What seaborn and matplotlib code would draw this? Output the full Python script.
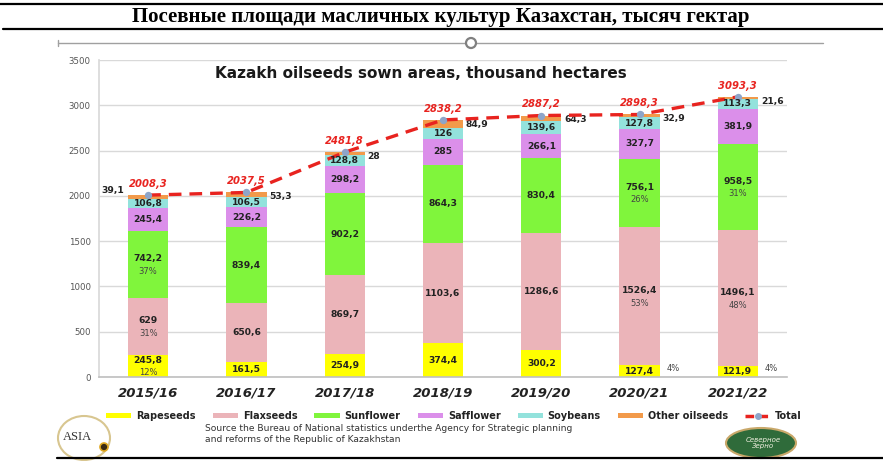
import matplotlib
matplotlib.use("Agg")
import matplotlib.pyplot as plt
import seaborn as sns
import numpy as np
from matplotlib.patches import Ellipse, Patch
from matplotlib.lines import Line2D

# ---------------- data ----------------
seasons = ["2015/16", "2016/17", "2017/18", "2018/19", "2019/20", "2020/21", "2021/22"]
rapeseeds = [245.8, 161.5, 254.9, 374.4, 300.2, 127.4, 121.9]
flaxseeds = [629, 650.6, 869.7, 1103.6, 1286.6, 1526.4, 1496.1]
sunflower = [742.2, 839.4, 902.2, 864.3, 830.4, 756.1, 958.5]
safflower = [245.4, 226.2, 298.2, 285, 266.1, 327.7, 381.9]
soybeans = [106.8, 106.5, 128.8, 126, 139.6, 127.8, 113.3]
other_oilseeds = [39.1, 53.3, 28, 84.9, 64.3, 32.9, 21.6]
totals = [2008.3, 2037.5, 2481.8, 2838.2, 2887.2, 2898.3, 3093.3]

pct_rapeseeds = ["12%", "", "", "", "", "4%", "4%"]
pct_flaxseeds = ["31%", "", "", "", "", "53%", "48%"]
pct_sunflower = ["37%", "", "", "", "", "26%", "31%"]

series_names = ["Rapeseeds", "Flaxseeds", "Sunflower", "Safflower", "Soybeans", "Other oilseeds"]
series_values = [rapeseeds, flaxseeds, sunflower, safflower, soybeans, other_oilseeds]
colors = ["#FFFF00", "#EBB4B9", "#80F53C", "#DB8FEA", "#93E2DC", "#F29A4A"]
total_color = "#E8231F"
marker_color = "#8EA5C9"

page_title = "Посевные площади масличных культур Казахстан, тысяч гектар"
chart_title = "Kazakh oilseeds sown areas, thousand hectares"
source_text = ("Source the Bureau of National statistics underthe Agency for Strategic planning\n"
               "and reforms of the Republic of Kazakhstan")


def fmt(v):
    return f"{v:g}".replace(".", ",")


# ---------------- figure ----------------
W, H = 883, 461
sns.set_theme(style="white")
plt.rcParams["font.family"] = ["DejaVu Sans"]
fig = plt.figure(figsize=(W / 100, H / 100), dpi=100)


def fx(x):
    return x / W


def fy(y):
    return 1 - y / H


# page decorations
fig.add_artist(Line2D([0, 1], [fy(4), fy(4)], color="black", lw=1.6, transform=fig.transFigure))
fig.add_artist(Line2D([fx(3), 1], [fy(29), fy(29)], color="black", lw=1.6, transform=fig.transFigure))
fig.text(fx(441), fy(17), page_title, ha="center", va="center", fontsize=15,
         fontweight="bold", family=["Liberation Serif", "DejaVu Serif"], color="black")
fig.add_artist(Line2D([fx(58), fx(823)], [fy(43), fy(43)], color="#A0A0A0", lw=1.0,
                      transform=fig.transFigure))
fig.add_artist(Line2D([fx(58), fx(58)], [fy(40), fy(46)], color="#A0A0A0", lw=1.0,
                      transform=fig.transFigure))
fig.add_artist(Ellipse((fx(471), fy(43)), 10 / W, 10 / H, facecolor="white",
                       edgecolor="#808080", lw=1.6, transform=fig.transFigure, zorder=5))
fig.add_artist(Line2D([fx(57), 1], [fy(458), fy(458)], color="black", lw=1.6,
                      transform=fig.transFigure))

# axes
ax_left, ax_right, ax_top, ax_bottom = 99, 787, 60, 377
ax = fig.add_axes([fx(ax_left), fy(ax_bottom), (ax_right - ax_left) / W, (ax_bottom - ax_top) / H])

cum = np.cumsum(np.array(series_values, dtype=float), axis=0)
bar_w = 0.41
for k in range(len(series_names) - 1, -1, -1):
    sns.barplot(x=seasons, y=cum[k], color=colors[k], saturation=1, width=bar_w,
                ax=ax, zorder=2, linewidth=0)

xpos = np.arange(len(seasons))
sns.lineplot(x=xpos, y=totals, ax=ax, color=total_color, lw=2.4,
             linestyle=(0, (3.8, 2.4)), zorder=4)
sns.scatterplot(x=xpos, y=totals, ax=ax, color=marker_color, s=28, linewidth=0, zorder=5)

ax.set_xlim(-0.5, len(seasons) - 0.5)
ax.set_ylim(0, 3500)
ax.set_yticks(np.arange(0, 3501, 500))
ax.set_xlabel("")
ax.set_ylabel("")
ax.grid(axis="y", color="#D9D9D9", lw=1.0, zorder=0)
ax.set_axisbelow(True)
for s in ["right", "top"]:
    ax.spines[s].set_visible(False)
ax.spines["left"].set_color("#D9D9D9")
ax.spines["bottom"].set_color("#BFBFBF")
ax.spines["bottom"].set_linewidth(1.2)
ax.tick_params(axis="y", length=0, pad=6, labelsize=6.2, labelcolor="#555555")
ax.tick_params(axis="x", length=0, pad=7, labelsize=9.5)
for lab in ax.get_xticklabels():
    lab.set_fontweight("bold")
    lab.set_fontstyle("italic")
    lab.set_color("#222222")

# data labels
lab_kw = dict(ha="center", va="center", fontsize=6.6, fontweight="bold", color="#222222", zorder=6)
pct_kw = dict(ha="center", va="center", fontsize=6.0, color="#444444", zorder=6)
pct_lists = [pct_rapeseeds, pct_flaxseeds, pct_sunflower, None, None, None]
for k in range(5):
    vals = series_values[k]
    for i, v in enumerate(vals):
        bottom = cum[k][i] - v
        mid = bottom + v / 2
        pct = pct_lists[k][i] if pct_lists[k] is not None else ""
        if pct and not (k == 0 and i >= 5):
            ax.annotate(fmt(v), (i, mid), xytext=(0, 4), textcoords="offset points", **lab_kw)
            ax.annotate(pct, (i, mid), xytext=(0, -5), textcoords="offset points", **pct_kw)
        else:
            ax.annotate(fmt(v), (i, mid), **lab_kw)
            if pct:
                ax.annotate(pct, (i + bar_w / 2, mid), xytext=(5, 2),
                            textcoords="offset points", ha="left", va="center",
                            fontsize=6.0, color="#444444")

# other oilseeds labels beside the bar top
for i, v in enumerate(other_oilseeds):
    if i == 0:
        ax.annotate(fmt(v), (i - bar_w / 2, totals[i]), xytext=(-3, 3), textcoords="offset points",
                    ha="right", va="center", fontsize=6.6, fontweight="bold", color="#222222")
    else:
        ax.annotate(fmt(v), (i + bar_w / 2, totals[i]), xytext=(2, -3), textcoords="offset points",
                    ha="left", va="center", fontsize=6.6, fontweight="bold", color="#222222")

# totals labels
for i, t in enumerate(totals):
    ax.annotate(fmt(t), (i, t), xytext=(0, 8), textcoords="offset points", ha="center",
                va="center", fontsize=7.2, fontweight="bold", fontstyle="italic",
                color=total_color, zorder=7)

# chart title
fig.text(fx(421), fy(73), chart_title, ha="center", va="center", fontsize=11,
         fontweight="bold", color="#1a1a1a")

# legend
handles = [Patch(facecolor=c, edgecolor="none") for c in colors]
handles.append(Line2D([0], [0], color=total_color, lw=2.5, linestyle=(0, (2.5, 1.5)), marker="o",
                      markerfacecolor=marker_color, markeredgecolor=marker_color, markersize=4))
labels = series_names + ["Total"]
leg = fig.legend(handles, labels, loc="center", bbox_to_anchor=(fx(454), fy(416)), ncol=7,
                 frameon=False, fontsize=7, handlelength=2.6, handleheight=0.55,
                 handletextpad=0.5, columnspacing=1.75)
for t in leg.get_texts():
    t.set_fontweight("bold")
    t.set_color("#222222")

# source
fig.text(fx(205), fy(434), source_text, ha="left", va="center", fontsize=6.6,
         color="#333333", linespacing=1.3)

# logos (approximation)
fig.add_artist(Ellipse((fx(84), fy(438)), 52 / W, 44 / H, facecolor="white", edgecolor="#D8C690",
                       lw=1.5, transform=fig.transFigure))
fig.text(fx(77), fy(437), "ASIA", ha="center", va="center", fontsize=9,
         family=["Liberation Serif"], color="#333333")
fig.add_artist(Ellipse((fx(104), fy(447)), 8 / W, 8 / H, facecolor="#3a2a10", edgecolor="#E0A820",
                       lw=1.2, transform=fig.transFigure))
fig.add_artist(Ellipse((fx(761), fy(443)), 70 / W, 30 / H, facecolor="#2F6B3A", edgecolor="#C9A86A",
                       lw=1.5, transform=fig.transFigure))
fig.text(fx(763), fy(443), "Северное\nЗерно", ha="center", va="center", fontsize=5,
         fontstyle="italic", color="#F0F0E0", linespacing=0.9)

fig.savefig("out.png", dpi=100)
